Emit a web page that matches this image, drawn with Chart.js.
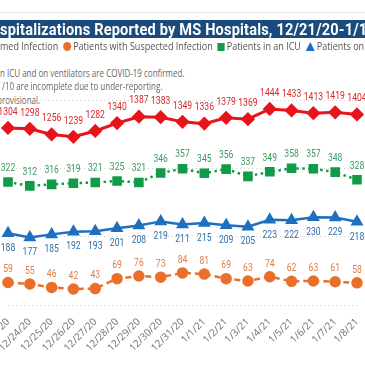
<!DOCTYPE html>
<html>
<head>
<meta charset="utf-8">
<script src="https://cdn.jsdelivr.net/npm/chart.js@4.4.0/dist/chart.umd.min.js"></script>
<style>
  html, body { margin: 0; padding: 0; width: 365px; height: 365px; overflow: hidden; background: #fff; position: relative; }
  #c { position: absolute; left: 0; top: 0; }
  .rule { position: absolute; left: 0; top: 12px; width: 365px; height: 1px; background: #e6e6e6; }
  .bar { position: absolute; left: 0; top: 20px; width: 365px; height: 18px; background: #1b4a7d; }
  .title { position: absolute; left: 0; top: 20px; line-height: 18px; color: #fff; font: bold 16px Roboto, sans-serif;
           white-space: nowrap; transform-origin: 0 0; transform: scaleX(0.91); letter-spacing: 0.2px; }
  .pre { position: absolute; right: 100%; top: 0; white-space: nowrap; }
  .txt { position: absolute; left: 0; white-space: nowrap; color: #666; font: 10px "Open Sans", sans-serif;
         transform-origin: 0 0; }
  .txt span.w { background: #fff; }
  .note { transform: scaleX(0.8); }
  .legend { top: 40px; line-height: 13px; color: #555; transform: scaleX(0.902); }
  .mk { display: inline-block; vertical-align: -1px; margin: 0 2px 0 3px; }
  .circle { width: 9px; height: 9px; border-radius: 50%; background: #e8702a; }
  .square { width: 8px; height: 8px; background: #119b49; }
  .tri { width: 0; height: 0; border-left: 5px solid transparent; border-right: 5px solid transparent; border-bottom: 9px solid #1e6fc0; }
</style>
</head>
<body>
<canvas id="c" width="365" height="365"></canvas>
<div class="rule"></div>
<div class="bar"></div>
<div class="title"><span class="pre">COVID-19 Ho</span>spitalizations Reported by MS Hospitals, 12/21/20-1/11/21</div>
<div class="txt legend"><span class="pre">Patients with Confir</span>med Infection <span class="mk circle"></span>Patients with Suspected Infection <span class="mk square"></span>Patients in an ICU <span class="mk tri"></span>Patients on Ventilators</div>
<div class="txt note" style="top:66px"><span class="w"><span class="pre">Patients i</span>n ICU and on ventilators are COVID-19 confirmed.</span></div>
<div class="txt note" style="top:79px;left:2px"><span class="w">/10 are incomplete due to under-reporting.</span></div>
<div class="txt note" style="top:93px;left:-3px"><span class="w">provisional.</span></div>
<script>
const dates = ['12/23/20', '12/24/20', '12/25/20', '12/26/20', '12/27/20', '12/28/20', '12/29/20', '12/30/20',
  '12/31/20', '1/1/21', '1/2/21', '1/3/21', '1/4/21', '1/5/21', '1/6/21', '1/7/21', '1/8/21'];
const confirmed = [1304, 1298, 1256, 1239, 1282, 1340, 1387, 1383, 1349, 1336, 1379, 1369, 1444, 1433, 1413, 1419, 1404];
const suspected = [59, 55, 46, 42, 43, 69, 76, 73, 84, 81, 69, 63, 74, 62, 63, 61, 58];
const icu = [322, 312, 316, 319, 321, 325, 321, 346, 357, 345, 356, 337, 349, 358, 357, 348, 328];
const vent = [188, 177, 185, 192, 193, 201, 208, 219, 211, 215, 209, 205, 223, 222, 230, 229, 218];

// draws the value above/below every point, slightly condensed
const pointLabels = {
  id: 'pointLabels',
  afterDatasetsDraw(chart) {
    const ctx = chart.ctx;
    chart.data.datasets.forEach((ds, i) => {
      const meta = chart.getDatasetMeta(i);
      ctx.font = '11px Roboto, sans-serif';
      ctx.fillStyle = ds.labelColor;
      ctx.textAlign = 'center';
      ctx.textBaseline = 'middle';
      meta.data.forEach((pt, j) => {
        ctx.save();
        ctx.translate(pt.x, pt.y + ds.labelOffset);
        ctx.scale(0.78, 1);
        ctx.fillText(ds.data[j], 0, 0);
        ctx.restore();
      });
    });
  },
};

new Chart(document.getElementById('c'), {
  type: 'line',
  data: {
    labels: dates,
    datasets: [
      {
        data: confirmed, yAxisID: 'yR', borderColor: '#e8141b', backgroundColor: '#e8141b', borderWidth: 3,
        pointStyle: 'rectRot', pointRadius: 5, tension: 0, labelColor: '#d9262a', labelOffset: -16,
      },
      {
        data: icu, yAxisID: 'yL', borderColor: '#119b49', backgroundColor: '#119b49', borderWidth: 2.5,
        borderDash: [2.5, 3.5], pointStyle: 'rect', pointRadius: 5, labelColor: '#3a9a5f', labelOffset: -14,
      },
      {
        data: vent, yAxisID: 'yL', borderColor: '#1e6fc0', backgroundColor: '#1e6fc0', borderWidth: 2.5,
        pointStyle: 'triangle', pointRadius: 5, labelColor: '#2f6fad', labelOffset: 15,
      },
      {
        data: suspected, yAxisID: 'yL', borderColor: '#e8702a', backgroundColor: '#e8702a', borderWidth: 2.5,
        borderDash: [6, 4], pointStyle: 'circle', pointRadius: 4.5, labelColor: '#e07b45', labelOffset: -13,
      },
    ],
  },
  options: {
    responsive: false,
    animation: false,
    layout: { padding: { left: 8, right: 1, top: 100, bottom: 10 } },
    plugins: { legend: { display: false }, tooltip: { enabled: false } },
    scales: {
      x: {
        grid: { display: false },
        border: { display: false },
        ticks: { color: '#6f6f6f', font: { size: 10, family: 'Open Sans' }, minRotation: 45, maxRotation: 45, autoSkip: false, padding: 3 },
        afterFit(scale) { scale.paddingLeft = 0; scale.paddingRight = 0; scale.height = 50; },
      },
      g: {
        position: 'left', min: 0, max: 3,
        ticks: { display: false, stepSize: 1 },
        grid: { color: '#cfcfcf', drawTicks: false },
        border: { display: false, dash: [1, 3] },
        afterFit(scale) { scale.width = 0; },
      },
      yR: { display: false, min: 0, max: 1510 },
      yL: { display: false, min: 0, max: 537 },
    },
  },
  plugins: [pointLabels],
});
</script>
</body>
</html>
